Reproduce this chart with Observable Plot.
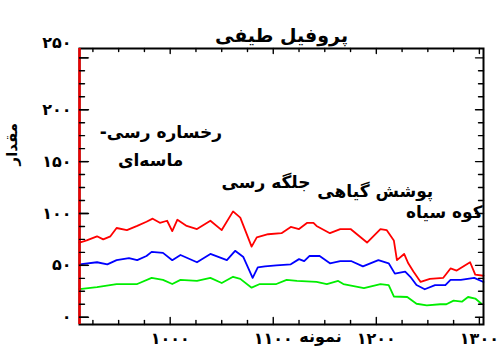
<!DOCTYPE html>
<html><head><meta charset="utf-8">
<script src="https://cdn.jsdelivr.net/npm/d3@7"></script>
<script src="https://cdn.jsdelivr.net/npm/@observablehq/plot@0.6"></script>
<style>body{margin:0;background:#fff}</style>
</head><body><div id="chart"></div>
<script>
const redSamples = [912,919,929,935,942,948,958,968,977,983,990,997,1002,1007,1016,1026,1039,1050,1061,1068,1079,1084,1095,1108,1117,1125,1133,1139,1142,1155,1165,1175,1191,1204,1210,1217,1220,1227,1231,1236,1243,1252,1265,1272,1278,1291,1296,1304];
const redValues = [72,74,78,75,78,86,84,88,92,95,91,93,83,94,88,85,93,84,102,96,68,77,80,81,87,85,91,91,88,81,85,85,72,85,84,74,55,61,52,44,34,37,38,47,45,53,41,40];
const blueSamples = [912,929,939,948,960,968,977,982,993,1002,1010,1026,1039,1055,1063,1071,1080,1085,1092,1103,1117,1125,1130,1135,1145,1155,1165,1176,1187,1202,1212,1218,1228,1233,1239,1247,1257,1267,1272,1282,1295,1304];
const blueValues = [51,53,51,55,57,55,59,63,62,55,60,53,61,55,64,58,38,48,49,50,51,56,54,59,59,52,54,54,49,55,52,42,44,39,31,27,31,31,36,36,38,34];
const greenSamples = [912,929,948,968,982,993,1002,1010,1026,1039,1050,1061,1068,1079,1087,1103,1113,1123,1142,1152,1163,1168,1188,1204,1212,1217,1230,1239,1249,1262,1268,1275,1283,1289,1296,1302];
const greenValues = [27,29,32,32,38,36,32,36,35,38,33,39,37,28.5,32,32,36,35,34,32,35,32,28,32,31,20,19.5,13,11.5,12.5,12.5,16,15,19.5,18,13];

const noteLabels = ["-رخساره رسی", "ماسه‌ای", "جلگه رسی", "پوشش گیاهی", "کوه سیاه"];
const noteSamples = [991, 981, 1093, 1199, 1266];
const noteValues = [178, 151, 130, 121, 101];

const xTicks = [1000, 1100, 1200, 1300];
const yTicks = [0, 50, 100, 150, 200, 250];
const xDomain = [912, 1304];
const yDomain = [-7, 259];
const titleText = "پروفیل طیفی";
const xLabel = "نمونه";
const yLabel = "مقدار";

const W = 500, H = 352, mT = 48, mR = 17, mB = 28, mL = 79;
const pw = W - mL - mR, ph = H - mT - mB;
const ux = (xDomain[1] - xDomain[0]) / pw;
const uy = (yDomain[1] - yDomain[0]) / ph;

const fa = s => String(s).replace(/\d/g, c => "۰۱۲۳۴۵۶۷۸۹"[+c]);
const zip = (xs, ys) => xs.map((x, i) => ({x, y: ys[i]}));
const notes = noteLabels.map((t, i) => ({t, x: noteSamples[i], y: noteValues[i]}));
const xMinor = d3.range(925, 1304, 25).filter(v => v % 100 !== 0);
const yMinor = d3.range(12.5, 259, 12.5).filter(v => v % 50 !== 0);
const font = "DejaVu Sans";
const id = d => d;

// inward tick segments on all four sides
const segs = [];
const addY = (ticks, len, side) => ticks.forEach(v => {
  const a = side === "left" ? xDomain[0] : xDomain[1];
  const b = side === "left" ? a + len * ux : a - len * ux;
  const k = side + "y" + v;
  segs.push({k, x: a, y: v}, {k, x: b, y: v});
});
const addX = (ticks, len, side) => ticks.forEach(v => {
  const a = side === "bottom" ? yDomain[0] : yDomain[1];
  const b = side === "bottom" ? a + len * uy : a - len * uy;
  const k = side + "x" + v;
  segs.push({k, x: v, y: a}, {k, x: v, y: b});
});
addY(yTicks, 9, "left"); addY(yMinor, 5, "left");
addY(yTicks, 8, "right"); addY(yMinor, 5, "right");
addX(xTicks, 7, "bottom"); addX(xMinor, 4, "bottom");
addX(xTicks, 5, "top"); addX(xMinor, 3, "top");

const chart = Plot.plot({
  width: W, height: H,
  marginTop: mT, marginRight: mR, marginBottom: mB, marginLeft: mL,
  style: {fontFamily: font},
  x: {domain: xDomain, axis: null},
  y: {domain: yDomain, axis: null},
  marks: [
    Plot.line(zip(redSamples, redValues), {x: "x", y: "y", stroke: "#ff0000", strokeWidth: 1.8}),
    Plot.line(zip(blueSamples, blueValues), {x: "x", y: "y", stroke: "#0000ff", strokeWidth: 1.8}),
    Plot.line(zip(greenSamples, greenValues), {x: "x", y: "y", stroke: "#00ee00", strokeWidth: 1.8}),
    Plot.frame({stroke: "#000", strokeWidth: 2}),
    Plot.ruleX([xDomain[0]], {stroke: "#ee0000", strokeWidth: 2.5}),
    // tick labels
    Plot.axisY({anchor: "left", ticks: yTicks.slice(0, 5), tickSize: 0, tickPadding: 8, tickFormat: fa, label: null, fontSize: 16, fontWeight: "bold"}),
    Plot.axisY({anchor: "left", ticks: [250], tickSize: 0, tickPadding: 8, tickFormat: fa, label: null, fontSize: 16, fontWeight: "bold", dy: -15}),
    Plot.axisX({anchor: "bottom", ticks: xTicks, tickSize: 0, tickPadding: 8, tickFormat: fa, label: null, fontSize: 16, fontWeight: "bold"}),
    // axis titles
    Plot.text([xLabel], {frameAnchor: "bottom", text: id, dx: 39, dy: 17, fontSize: 16, fontWeight: "bold"}),
    Plot.text([yLabel], {frameAnchor: "left", text: id, rotate: -90, dx: -67, dy: -21, fontSize: 15, fontWeight: "bold"}),
    Plot.text([titleText], {frameAnchor: "top", text: id, dy: -20, fontSize: 19, fontWeight: "bold"}),
    // annotations
    Plot.text(notes, {x: "x", y: "y", text: "t", fontSize: 17, fontWeight: "bold", fill: "#000"}),
    // inward ticks, drawn last
    Plot.line(segs, {x: "x", y: "y", z: "k", stroke: "#000", strokeWidth: 1.4}),
    Plot.ruleY(yTicks, {y: id, x1: xDomain[0], x2: xDomain[0] + 9 * ux, stroke: "#000", strokeWidth: 1.4})
  ]
});
document.getElementById("chart").appendChild(chart);
</script>
</body></html>
